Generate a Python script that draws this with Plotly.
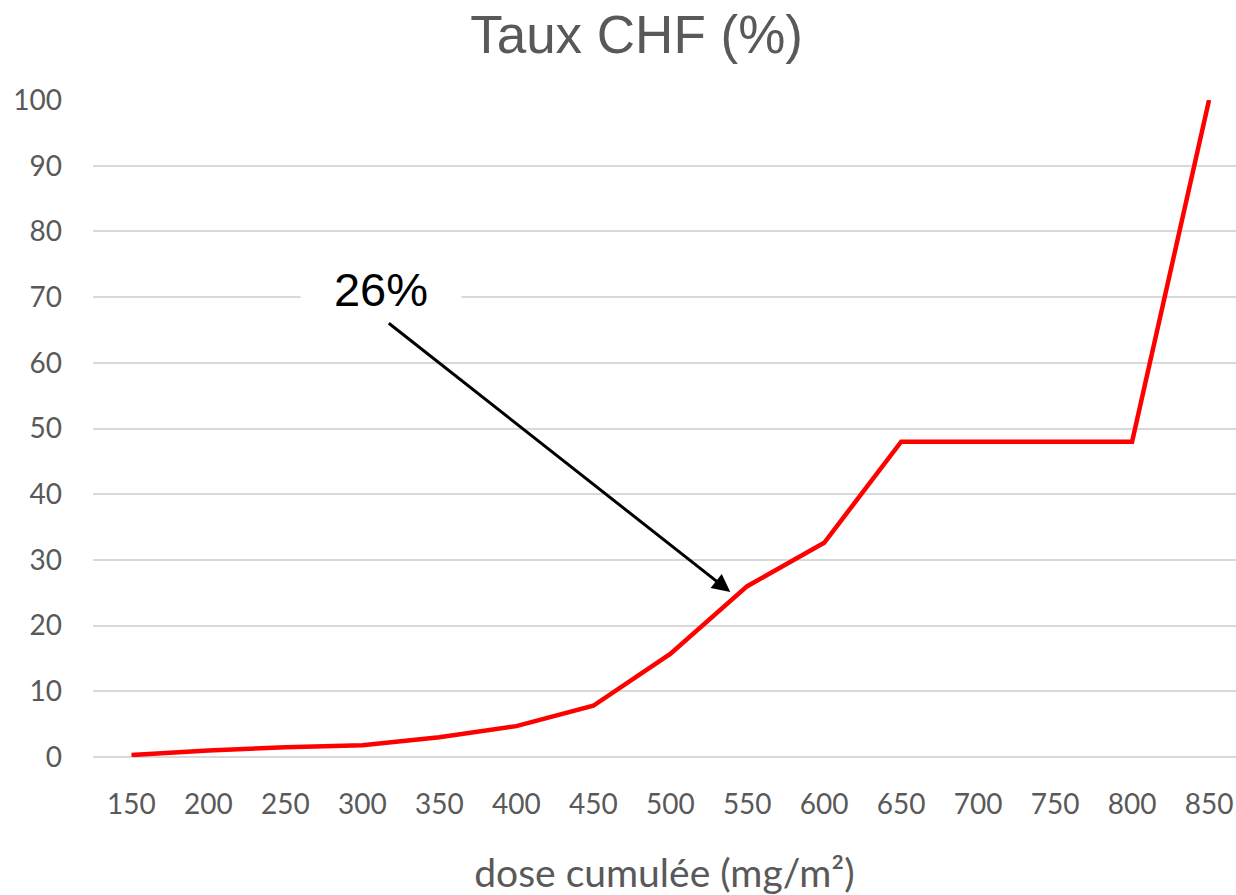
import plotly.graph_objects as go

doses = ["150", "200", "250", "300", "350", "400", "450", "500",
         "550", "600", "650", "700", "750", "800", "850"]
taux = [0.3, 1.0, 1.5, 1.8, 3.0, 4.7, 7.8, 15.7, 26.0, 32.6, 48.0, 48.0, 48.0, 48.0, 100.0]
y_ticks = list(range(0, 101, 10))

title_text = "Taux CHF (%)"
x_title = "dose cumulée (mg/m²)"
note_text = "26%"

GRAY = "#595959"
GRID = "#d9d9d9"

fig = go.Figure()
fig.add_trace(go.Scatter(
    x=list(range(len(doses))), y=taux, mode="lines",
    line=dict(color="#ff0000", width=4.5), hoverinfo="skip", showlegend=False,
))

# annotation text with white background (interrupts the gridline)
fig.add_annotation(
    x=3.24, y=71.1, xref="x", yref="y", text=note_text, showarrow=False,
    font=dict(family="Liberation Sans, Arial", size=47, color="black"),
    bgcolor="white", borderpad=2, width=156, align="center",
    xanchor="center", yanchor="middle",
)
# arrow pointing toward the 550 point
fig.add_annotation(
    x=7.78, y=25.1, xref="x", yref="y", text="", showarrow=True,
    arrowhead=2, arrowsize=1.2, arrowwidth=3, arrowcolor="black",
    ax=-343, ay=-270, axref="pixel", ayref="pixel",
)

fig.update_layout(
    width=1236, height=895,
    margin=dict(l=93, r=0, t=100, b=138),
    paper_bgcolor="white", plot_bgcolor="white",
    title=dict(text=title_text, x=0.515, xanchor="center", y=0.962, yanchor="middle",
               font=dict(family="Liberation Sans, Arial", size=53, color=GRAY)),
    xaxis=dict(
        tickmode="array", tickvals=list(range(len(doses))), ticktext=doses,
        range=[-0.5, 14.35], showgrid=False, zeroline=False, showline=False,
        ticks="", ticklabelstandoff=28,
        tickfont=dict(family="Lato", size=28, color=GRAY),
        title=dict(text=x_title, standoff=45,
                   font=dict(family="Lato", size=39, color=GRAY)),
    ),
    yaxis=dict(
        tickmode="array", tickvals=y_ticks, range=[0, 100],
        showgrid=True, gridcolor=GRID, gridwidth=1.5,
        zeroline=True, zerolinecolor=GRID, zerolinewidth=2,
        showline=False, ticks="", ticklabelstandoff=30,
        tickfont=dict(family="Lato", size=28, color=GRAY),
    ),
)

fig.write_html("out.html")
